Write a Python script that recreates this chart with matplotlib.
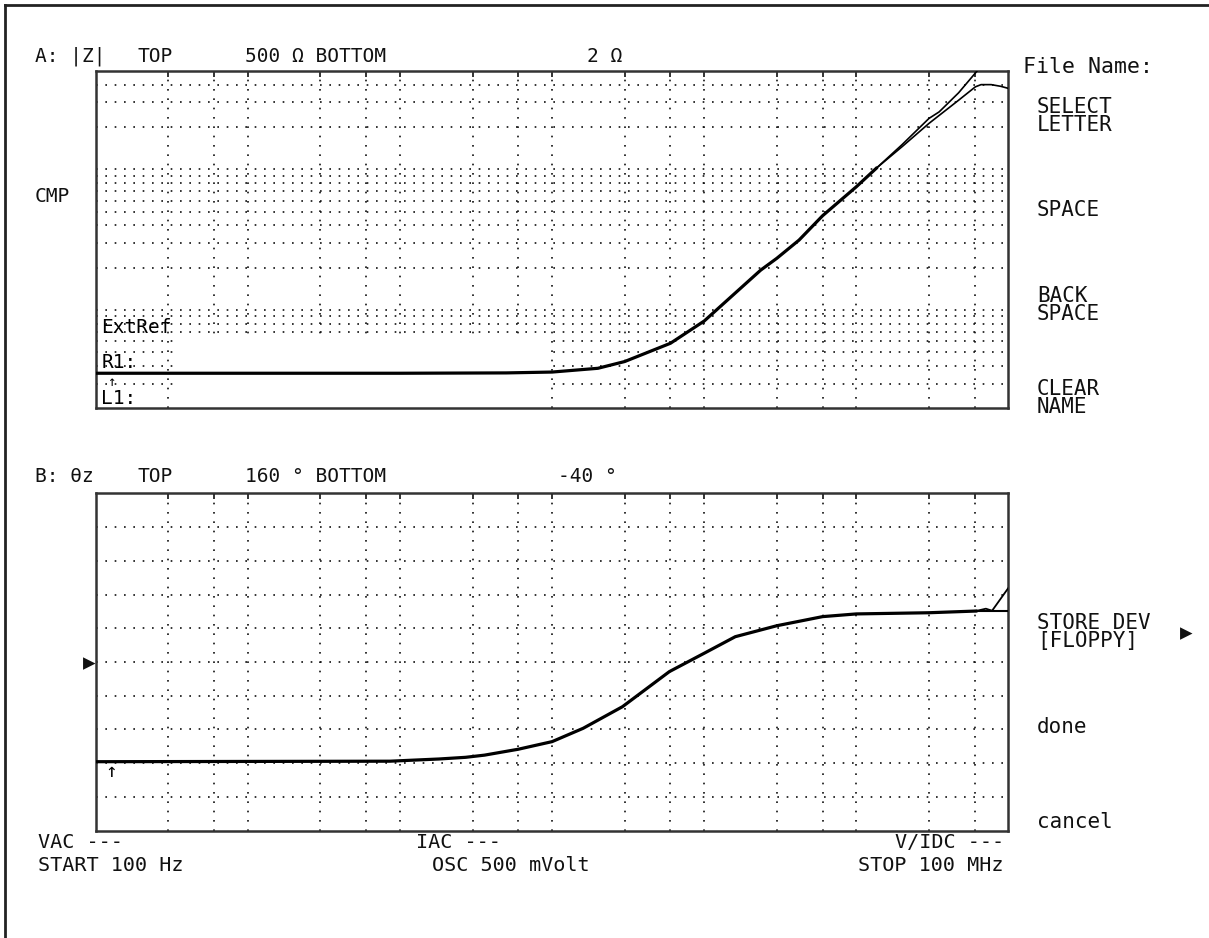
import matplotlib
matplotlib.use("Agg")
import matplotlib.pyplot as plt
from matplotlib.patches import Rectangle

plt.rcParams["font.family"] = ["DejaVu Sans Mono", "DejaVu Sans"]

# |Z| trace, part shared by both traces (Hz, ohm)
mag_freq = [1e2, 1e3, 1e4, 5e4, 1e5, 2e5, 3e5, 6e5, 1e6, 1.5e6, 2.35e6, 3e6, 4.2e6, 6e6, 1e7, 1.35e7]
mag_ohm = [3.55, 3.55, 3.55, 3.57, 3.62, 3.85, 4.3, 5.8, 8.35, 12.4, 19.2, 23.3, 31.4, 46.8, 75.2, 101.6]

# |Z| high frequency tails
upper_freq = [2e7, 3e7, 3.5e7, 4.7e7, 6.6e7]
upper_ohm = [150, 230, 256, 350, 540]
lower_freq = [2e7, 3e7, 4.7e7, 6.06e7, 6.6e7, 7.7e7, 8.9e7, 1e8]
lower_ohm = [145, 212, 310, 386, 400, 400, 389, 376]

# phase trace (Hz, degree)
ph_freq = [1e2, 8.6e3, 1.8e4, 2.7e4, 3.6e4, 6e4, 1e5, 1.6e5, 2.9e5, 5.9e5, 1e6, 1.6e6, 3e6, 6e6, 1e7, 3e7, 6.1e7]
ph_deg = [0.9, 1.2, 2.5, 3.5, 4.8, 8.3, 12.8, 20.7, 33.5, 54.3, 65.2, 75.0, 81.5, 86.9, 88.5, 89.2, 90.2]
ph_tail_a_freq = [7.1e7, 7.8e7, 1e8]
ph_tail_a_deg = [91.6, 90.4, 104]
ph_tail_b_freq = [1e8]
ph_tail_b_deg = [90.2]

# grid positions
freq_grid = [3e2, 6e2, 1e3, 3e3, 6e3, 1e4, 3e4, 6e4, 1e5, 3e5, 6e5, 1e6, 3e6, 6e6, 1e7, 3e7, 6e7]
mag_grid = [3, 4, 5, 6, 7, 8, 9, 10, 20, 30, 40, 50, 60, 70, 80, 90, 100, 200, 300, 400]
ph_grid = [-20, 0, 20, 40, 60, 80, 100, 120, 140]

W, H = 1209, 938
fig = plt.figure(figsize=(W / 100, H / 100), dpi=100)
fig.patch.set_facecolor("white")


def box(left, top, right, bottom):
    return [left / W, 1 - bottom / H, (right - left) / W, (bottom - top) / H]


dots = (0, (1, 4.6))
ink = "#111111"

ax1 = fig.add_axes(box(95.7, 71, 1008.5, 408.3))
ax2 = fig.add_axes(box(95.7, 493.3, 1008.5, 830.7))

for ax in (ax1, ax2):
    ax.set_xscale("log")
    ax.set_xlim(1e2, 1e8)
    ax.set_xticks(freq_grid)
    ax.set_xticks([], minor=True)
    ax.set_yticks([])
    ax.set_yticks([], minor=True)
    ax.tick_params(axis="x", direction="in", length=4, width=1.2, top=True, bottom=False,
                   labelbottom=False, colors=ink)
    for s in ax.spines.values():
        s.set_linewidth(1.8)
        s.set_color("#333333")
    ax.vlines(freq_grid, 0, 1, transform=ax.get_xaxis_transform(), colors=ink,
              linewidth=1.2, linestyles=[dots], zorder=1)

# top panel: |Z|
ax1.set_yscale("log")
ax1.set_ylim(2, 500)
ax1.set_yticks([])
ax1.set_yticks([], minor=True)
ax1.hlines(mag_grid, 0, 1, transform=ax1.get_yaxis_transform(), colors=ink,
           linewidth=1.2, linestyles=[dots], zorder=1)
# label area with the grid blanked out
ax1.add_patch(Rectangle((320, 2), 9.4e4 - 320, 6.45 - 2, facecolor="white",
                        edgecolor="none", zorder=2))
ax1.plot(mag_freq, mag_ohm, color="black", linewidth=2.3, zorder=3)
ax1.plot(mag_freq[-1:] + upper_freq, mag_ohm[-1:] + upper_ohm, color="black", linewidth=1.2, zorder=3)
ax1.plot(mag_freq[-1:] + lower_freq, mag_ohm[-1:] + lower_ohm, color="black", linewidth=1.2, zorder=3)

ax1.text(0.006, 0.24, "ExtRef", transform=ax1.transAxes, fontsize=14, va="center", zorder=4)
ax1.text(0.006, 0.135, "R1:", transform=ax1.transAxes, fontsize=14, va="center", zorder=4)
ax1.text(0.006, 0.03, "L1:", transform=ax1.transAxes, fontsize=14, va="center", zorder=4)
ax1.text(0.012, 0.078, "↑", transform=ax1.transAxes, fontsize=10, va="center", zorder=4)

# bottom panel: phase
ax2.set_ylim(-40, 160)
ax2.hlines(ph_grid, 0, 1, transform=ax2.get_yaxis_transform(), colors=ink,
           linewidth=1.2, linestyles=[dots], zorder=1)
ax2.plot(ph_freq, ph_deg, color="black", linewidth=2.3, zorder=3)
ax2.plot(ph_freq[-1:] + ph_tail_a_freq, ph_deg[-1:] + ph_tail_a_deg, color="black", linewidth=1.3, zorder=3)
ax2.plot(ph_freq[-1:] + ph_tail_b_freq, ph_deg[-1:] + ph_tail_b_deg, color="black", linewidth=1.5, zorder=3)
ax2.text(0.011, 0.175, "↑", transform=ax2.transAxes, fontsize=14, va="center", zorder=4)


# screen text
def label(x, y, s, size=14, **kw):
    fig.text(x / W, 1 - y / H, s, fontsize=size, va="center", color=ink, **kw)


label(35, 56, "A: |Z|")
label(138, 56, "TOP")
label(245, 56, "500 Ω BOTTOM")
label(587, 56, "2 Ω")
label(35, 197, "CMP")

label(35, 476, "B: θz")
label(138, 476, "TOP")
label(245, 476, "160 ° BOTTOM")
label(558, 476, "-40 °")
label(83, 663, "▶", size=15)

label(1023, 67, "File Name:", size=15.5)
label(1037, 116, "SELECT\nLETTER", size=15, linespacing=0.92)
label(1037, 210, "SPACE", size=15)
label(1037, 305, "BACK\nSPACE", size=15, linespacing=0.92)
label(1037, 398, "CLEAR\nNAME", size=15, linespacing=0.92)
label(1037, 632, "STORE DEV\n[FLOPPY]", size=15, linespacing=0.92)
label(1180, 633, "▶", size=15)
label(1037, 727, "done", size=15)
label(1037, 822, "cancel", size=15)

label(38, 843, "VAC ---", size=14.5)
label(38, 865, "START 100 Hz", size=14.5)
label(416, 843, "IAC ---", size=14.5)
label(432, 865, "OSC 500 mVolt", size=14.5)
label(1004, 843, "V/IDC ---", size=14.5, ha="right")
label(1004, 865, "STOP 100 MHz", size=14.5, ha="right")

# outer frame
fig.add_artist(plt.Line2D([5 / W, 1], [1 - 5 / H, 1 - 5 / H], color="#222222", linewidth=2))
fig.add_artist(plt.Line2D([5 / W, 5 / W], [0, 1 - 5 / H], color="#222222", linewidth=2))

fig.savefig("out.png", dpi=100, facecolor="white")
